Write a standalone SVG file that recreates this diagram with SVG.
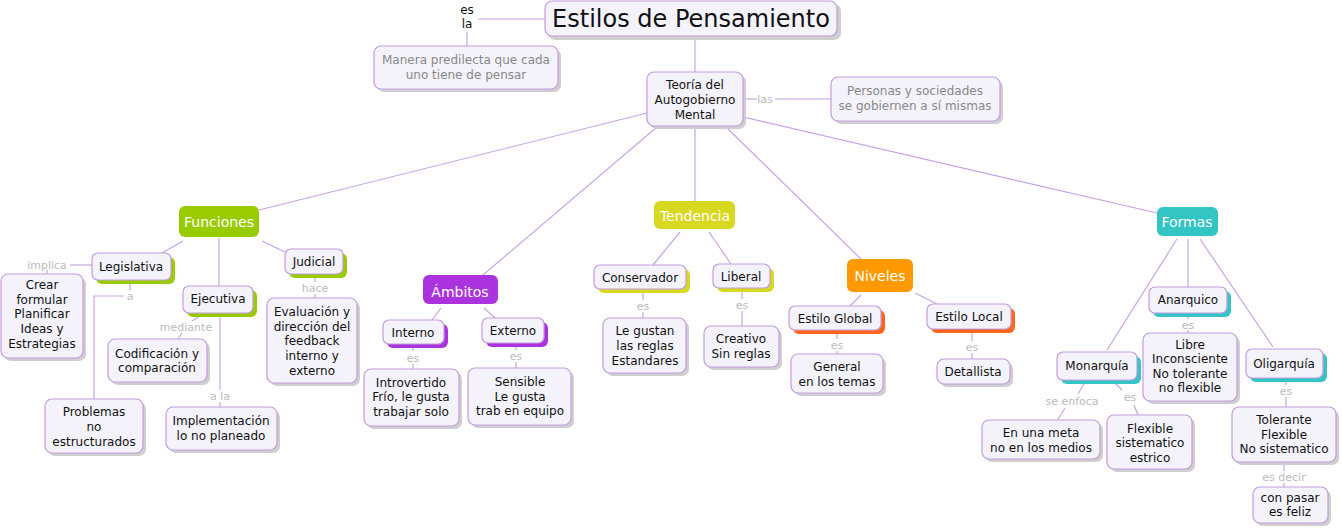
<svg xmlns="http://www.w3.org/2000/svg" width="1342" height="531" viewBox="0 0 1342 531">
<style>
text{font-family:"DejaVu Sans","Verdana",sans-serif;font-size:12px;fill:#111;text-anchor:middle}
.n{fill:#f4f3fb;stroke:#c39be0;stroke-width:1.2}
.sh{fill:#cfcfcf}
.cat text,text.w{fill:#fff;font-size:14px}
.lbl{fill:#bbbbbb;font-size:11px}
.gray{fill:#888}
#connectors line,#connectors polyline{stroke:#c9a3e6;stroke-width:1.2;fill:none}
.sg{fill:#99cc00}.sp{fill:#aa33dd}.sy{fill:#d8d820}.so{fill:#ff6619}.st{fill:#33c4c4}
</style>
<rect width="1342" height="531" fill="#fff"/>
<g id="connectors">
<line x1="695" y1="37" x2="695" y2="72"/>
<line x1="478" y1="19" x2="545" y2="19"/>
<line x1="467" y1="32" x2="467" y2="46"/>
<line x1="743" y1="99" x2="757" y2="99"/>
<line x1="775" y1="99" x2="831" y2="99"/>
<line x1="647" y1="113" x2="259" y2="210"/>
<line x1="657" y1="127" x2="483" y2="275"/>
<line x1="695" y1="127" x2="695" y2="201"/>
<line x1="726" y1="127" x2="861" y2="259"/>
<line x1="743" y1="117" x2="1157" y2="213"/>
<line x1="183" y1="241" x2="162" y2="253"/>
<line x1="219" y1="238" x2="219" y2="286"/>
<line x1="262" y1="241" x2="285" y2="252"/>
<line x1="92" y1="265" x2="70" y2="265"/>
<line x1="47" y1="270" x2="47" y2="274"/>
<line x1="130" y1="283" x2="130" y2="290"/>
<polyline points="124,296 94,296 94,399"/>
<line x1="200" y1="316" x2="192" y2="321"/>
<line x1="182" y1="333" x2="178" y2="339"/>
<line x1="220" y1="316" x2="220" y2="390"/>
<line x1="220" y1="402" x2="220" y2="407"/>
<line x1="315" y1="277" x2="315" y2="282"/>
<line x1="315" y1="294" x2="315" y2="298"/>
<line x1="441" y1="308" x2="432" y2="320"/>
<line x1="484" y1="308" x2="495" y2="318"/>
<line x1="413" y1="346" x2="413" y2="351"/>
<line x1="413" y1="364" x2="413" y2="369"/>
<line x1="516" y1="346" x2="516" y2="350"/>
<line x1="516" y1="362" x2="516" y2="368"/>
<line x1="680" y1="232" x2="653" y2="265"/>
<line x1="709" y1="232" x2="731" y2="264"/>
<line x1="643" y1="292" x2="643" y2="300"/>
<line x1="643" y1="312" x2="643" y2="318"/>
<line x1="742" y1="291" x2="742" y2="299"/>
<line x1="742" y1="311" x2="742" y2="326"/>
<line x1="861" y1="295" x2="850" y2="306"/>
<line x1="915" y1="293" x2="937" y2="304"/>
<line x1="837" y1="333" x2="837" y2="339"/>
<line x1="837" y1="351" x2="837" y2="354"/>
<line x1="972" y1="332" x2="972" y2="341"/>
<line x1="972" y1="353" x2="972" y2="359"/>
<line x1="1188" y1="239" x2="1188" y2="287"/>
<line x1="1177" y1="239" x2="1107" y2="350"/>
<line x1="1200" y1="239" x2="1273" y2="347"/>
<line x1="1188" y1="316" x2="1188" y2="319"/>
<line x1="1188" y1="330" x2="1188" y2="333"/>
<line x1="1084" y1="384" x2="1078" y2="394"/>
<line x1="1065" y1="408" x2="1058" y2="419"/>
<line x1="1115" y1="383" x2="1122" y2="390"/>
<line x1="1134" y1="405" x2="1138" y2="415"/>
<line x1="1286" y1="382" x2="1286" y2="385"/>
<line x1="1286" y1="397" x2="1286" y2="407"/>
<line x1="1284" y1="465" x2="1284" y2="471"/>
<line x1="1284" y1="483" x2="1284" y2="487"/>
</g>
<g id="labels">
<text x="467" y="14" style="fill:#111">es</text>
<text x="467" y="28" style="fill:#111">la</text>
<text class="lbl" x="765" y="103">las</text>
<text class="lbl" x="47" y="269">implica</text>
<text class="lbl" x="130" y="300">a</text>
<text class="lbl" x="186" y="331">mediante</text>
<text class="lbl" x="220" y="400">a la</text>
<text class="lbl" x="315" y="292">hace</text>
<text class="lbl" x="413" y="362">es</text>
<text class="lbl" x="516" y="360">es</text>
<text class="lbl" x="643" y="310">es</text>
<text class="lbl" x="742" y="309">es</text>
<text class="lbl" x="837" y="349">es</text>
<text class="lbl" x="972" y="351">es</text>
<text class="lbl" x="1188" y="329">es</text>
<text class="lbl" x="1072" y="405">se enfoca</text>
<text class="lbl" x="1130" y="401">es</text>
<text class="lbl" x="1286" y="395">es</text>
<text class="lbl" x="1284" y="481">es decir</text>
</g>
<g id="title"><rect class="sh" x="548" y="4" width="293" height="36" rx="7"/><rect class="n" x="545" y="1" width="292" height="35" rx="7"/><text x="691" y="27" style="font-size:24px">Estilos de Pensamiento</text></g>
<g id="manera"><rect class="sh" x="377" y="49" width="184" height="43" rx="7"/><rect class="n" x="374" y="46" width="184" height="43" rx="7"/><text class="gray" x="466" y="64">Manera predilecta que cada</text><text class="gray" x="466" y="79">uno tiene de pensar</text></g>
<g id="teoria"><rect class="sh" x="650" y="75" width="96" height="54" rx="7"/><rect class="n" x="647" y="72" width="96" height="54" rx="7"/><text x="695" y="89">Teoría del</text><text x="695" y="104">Autogobierno</text><text x="695" y="119">Mental</text></g>
<g id="personas"><rect class="sh" x="834" y="80" width="169" height="44" rx="7"/><rect class="n" x="831" y="77" width="169" height="44" rx="7"/><text class="gray" x="915" y="95">Personas y sociedades</text><text class="gray" x="915" y="110">se gobiernen a sí mismas</text></g>
<g id="funciones" class="cat"><rect x="179" y="206" width="80" height="31" rx="6" fill="#99cc00"/><text x="219" y="227">Funciones</text></g>
<g id="legislativa"><rect class="sg" x="96" y="257" width="79" height="27" rx="6"/><rect class="n" x="92" y="253" width="79" height="27" rx="6"/><text x="131" y="271">Legislativa</text></g>
<g id="crear"><rect class="sh" x="4" y="277" width="82" height="84" rx="7"/><rect class="n" x="1" y="274" width="82" height="84" rx="7"/><text x="42" y="289">Crear</text><text x="42" y="304">formular</text><text x="42" y="318">Planificar</text><text x="42" y="333">Ideas y</text><text x="42" y="348">Estrategias</text></g>
<g id="problemas"><rect class="sh" x="48" y="402" width="98" height="54" rx="7"/><rect class="n" x="45" y="399" width="98" height="54" rx="7"/><text x="94" y="416">Problemas</text><text x="94" y="431">no</text><text x="94" y="446">estructurados</text></g>
<g id="ejecutiva"><rect class="sg" x="187" y="290" width="70" height="27" rx="6"/><rect class="n" x="183" y="286" width="70" height="27" rx="6"/><text x="218" y="303">Ejecutiva</text></g>
<g id="codificacion"><rect class="sh" x="111" y="342" width="99" height="43" rx="7"/><rect class="n" x="108" y="339" width="99" height="43" rx="7"/><text x="157" y="358">Codificación y</text><text x="157" y="372">comparación</text></g>
<g id="implementacion"><rect class="sh" x="169" y="410" width="111" height="43" rx="7"/><rect class="n" x="166" y="407" width="111" height="43" rx="7"/><text x="221" y="425">Implementación</text><text x="221" y="440">lo no planeado</text></g>
<g id="judicial"><rect class="sg" x="289" y="253" width="58" height="25" rx="6"/><rect class="n" x="285" y="249" width="58" height="25" rx="6"/><text x="314" y="266">Judicial</text></g>
<g id="evaluacion"><rect class="sh" x="270" y="301" width="90" height="85" rx="7"/><rect class="n" x="267" y="298" width="90" height="85" rx="7"/><text x="312" y="316">Evaluación y</text><text x="312" y="331">dirección del</text><text x="312" y="345">feedback</text><text x="312" y="360">interno y</text><text x="312" y="375">externo</text></g>
<g id="ambitos" class="cat"><rect x="423" y="275" width="75" height="29" rx="6" fill="#aa33dd"/><text x="460" y="297">Ámbitos</text></g>
<g id="interno"><rect class="sp" x="387" y="324" width="61" height="24" rx="6"/><rect class="n" x="383" y="320" width="61" height="24" rx="6"/><text x="413" y="337">Interno</text></g>
<g id="externo"><rect class="sp" x="486" y="322" width="62" height="25" rx="6"/><rect class="n" x="482" y="318" width="62" height="25" rx="6"/><text x="513" y="335">Externo</text></g>
<g id="introvertido"><rect class="sh" x="367" y="372" width="95" height="57" rx="7"/><rect class="n" x="364" y="369" width="95" height="57" rx="7"/><text x="411" y="387">Introvertido</text><text x="411" y="401">Frío, le gusta</text><text x="411" y="416">trabajar solo</text></g>
<g id="sensible"><rect class="sh" x="471" y="371" width="103" height="57" rx="7"/><rect class="n" x="468" y="368" width="103" height="57" rx="7"/><text x="520" y="386">Sensible</text><text x="520" y="401">Le gusta</text><text x="520" y="415">trab en equipo</text></g>
<g id="tendencia" class="cat"><rect x="654" y="201" width="81" height="28" rx="6" fill="#d8d820"/><text x="695" y="221">Tendencia</text></g>
<g id="conservador"><rect class="sy" x="598" y="269" width="92" height="24" rx="6"/><rect class="n" x="594" y="265" width="92" height="24" rx="6"/><text x="640" y="282">Conservador</text></g>
<g id="liberal"><rect class="sy" x="717" y="268" width="57" height="24" rx="6"/><rect class="n" x="713" y="264" width="57" height="24" rx="6"/><text x="741" y="281">Liberal</text></g>
<g id="legustan"><rect class="sh" x="606" y="321" width="83" height="55" rx="7"/><rect class="n" x="603" y="318" width="83" height="55" rx="7"/><text x="645" y="335">Le gustan</text><text x="645" y="350">las reglas</text><text x="645" y="365">Estandares</text></g>
<g id="creativo"><rect class="sh" x="707" y="329" width="75" height="41" rx="7"/><rect class="n" x="704" y="326" width="75" height="41" rx="7"/><text x="741" y="343">Creativo</text><text x="741" y="358">Sin reglas</text></g>
<g id="niveles" class="cat"><rect x="847" y="259" width="66" height="33" rx="6" fill="#ff9900"/><text x="880" y="281">Niveles</text></g>
<g id="global"><rect class="so" x="793" y="310" width="92" height="24" rx="6"/><rect class="n" x="789" y="306" width="92" height="24" rx="6"/><text x="835" y="323">Estilo Global</text></g>
<g id="local"><rect class="so" x="931" y="308" width="84" height="25" rx="6"/><rect class="n" x="927" y="304" width="84" height="25" rx="6"/><text x="969" y="321">Estilo Local</text></g>
<g id="general"><rect class="sh" x="794" y="357" width="92" height="39" rx="7"/><rect class="n" x="791" y="354" width="92" height="39" rx="7"/><text x="837" y="371">General</text><text x="837" y="386">en los temas</text></g>
<g id="detallista"><rect class="sh" x="940" y="362" width="73" height="25" rx="7"/><rect class="n" x="937" y="359" width="73" height="25" rx="7"/><text x="973" y="376">Detallista</text></g>
<g id="formas" class="cat"><rect x="1157" y="207" width="61" height="29" rx="6" fill="#33c4c4"/><text x="1187" y="227">Formas</text></g>
<g id="anarquico"><rect class="st" x="1153" y="291" width="78" height="26" rx="6"/><rect class="n" x="1149" y="287" width="78" height="26" rx="6"/><text x="1188" y="304">Anarquico</text></g>
<g id="libre"><rect class="sh" x="1146" y="336" width="94" height="68" rx="7"/><rect class="n" x="1143" y="333" width="94" height="68" rx="7"/><text x="1190" y="349">Libre</text><text x="1190" y="363">Inconsciente</text><text x="1190" y="378">No tolerante</text><text x="1190" y="392">no flexible</text></g>
<g id="monarquia"><rect class="st" x="1061" y="356" width="80" height="28" rx="6"/><rect class="n" x="1057" y="352" width="80" height="28" rx="6"/><text x="1097" y="370">Monarquía</text></g>
<g id="oligarquia"><rect class="st" x="1250" y="353" width="77" height="29" rx="6"/><rect class="n" x="1246" y="349" width="77" height="29" rx="6"/><text x="1284" y="368">Oligarquía</text></g>
<g id="enunameta"><rect class="sh" x="985" y="423" width="118" height="39" rx="7"/><rect class="n" x="982" y="420" width="118" height="39" rx="7"/><text x="1041" y="437">En una meta</text><text x="1041" y="452">no en los medios</text></g>
<g id="flexible"><rect class="sh" x="1110" y="418" width="85" height="54" rx="7"/><rect class="n" x="1107" y="415" width="85" height="54" rx="7"/><text x="1150" y="433">Flexible</text><text x="1150" y="447">sistematico</text><text x="1150" y="462">estrico</text></g>
<g id="tolerante"><rect class="sh" x="1235" y="410" width="104" height="55" rx="7"/><rect class="n" x="1232" y="407" width="104" height="55" rx="7"/><text x="1284" y="424">Tolerante</text><text x="1284" y="439">Flexible</text><text x="1284" y="453">No sistematico</text></g>
<g id="conpasar"><rect class="sh" x="1256" y="490" width="75" height="36" rx="7"/><rect class="n" x="1253" y="487" width="75" height="36" rx="7"/><text x="1290" y="502">con pasar</text><text x="1290" y="516">es feliz</text></g>
</svg>
